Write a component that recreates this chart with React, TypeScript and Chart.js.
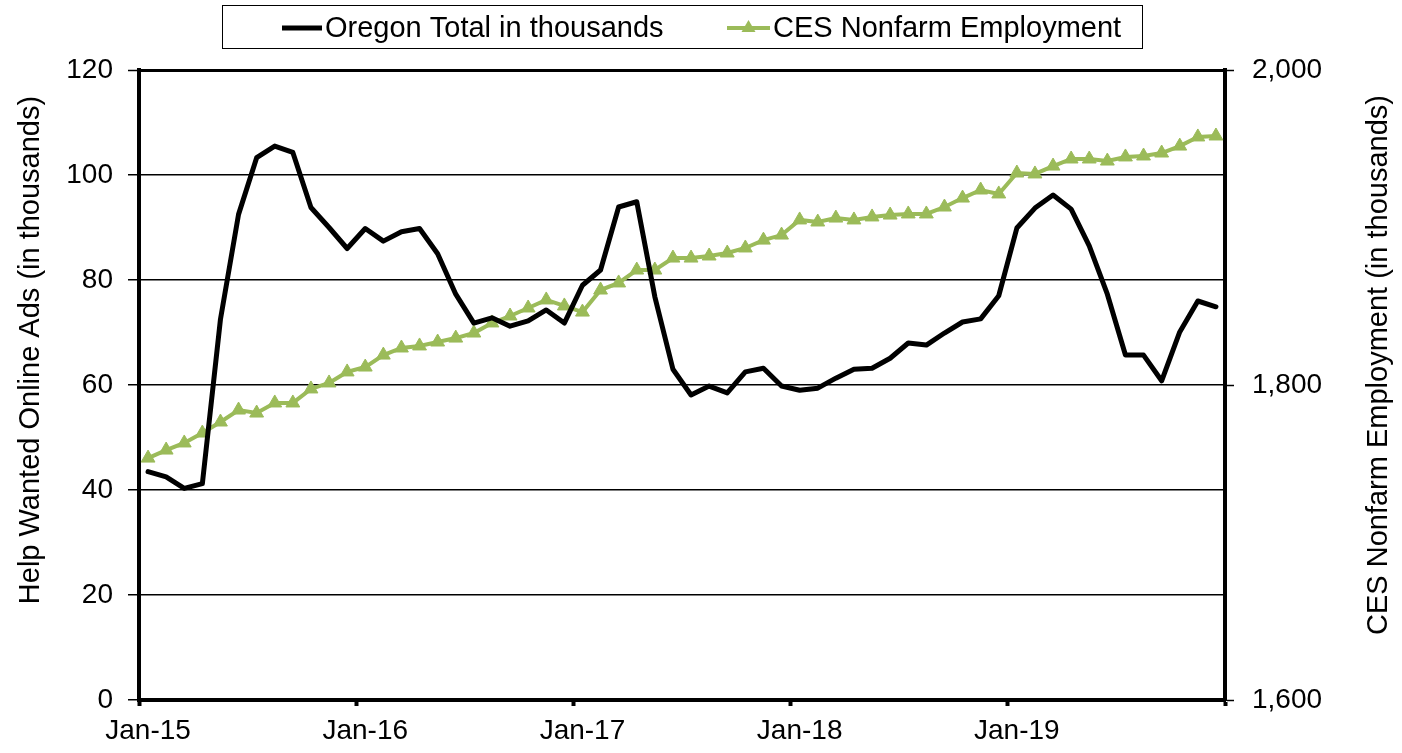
import React, { useEffect, useRef } from 'react';
import { Chart, registerables } from 'chart.js';

Chart.register(...registerables);

const MONTHS = ['Jan', 'Feb', 'Mar', 'Apr', 'May', 'Jun', 'Jul', 'Aug', 'Sep', 'Oct', 'Nov', 'Dec'];
const YEARS = ['15', '16', '17', '18', '19'];
const categories: string[] = YEARS.flatMap((y) => MONTHS.map((m) => `${m}-${y}`));

const oregonTotal: number[] = [
  43.5, 42.5, 40.3, 41.2, 72.5, 92.5, 103.3, 105.5, 104.3, 93.8, 90.0, 86.0,
  89.8, 87.4, 89.2, 89.8, 85.0, 77.3, 71.8, 72.8, 71.2, 72.2, 74.3, 71.8,
  79.0, 81.9, 93.9, 94.9, 76.8, 63.0, 58.1, 59.8, 58.5, 62.5, 63.2, 59.8,
  59.0, 59.4, 61.3, 63.0, 63.2, 65.1, 68.0, 67.6, 69.9, 72.0, 72.6, 77.0,
  89.9, 93.7, 96.2, 93.5, 86.5, 77.3, 65.7, 65.7, 60.8, 70.1, 76.0, 74.9,
];

const cesNonfarm: number[] = [
  1753.6, 1758.7, 1763.2, 1769.5, 1776.5, 1784.1, 1782.2, 1788.6, 1788.6, 1797.5, 1801.3, 1808.3,
  1811.4, 1819.0, 1823.5, 1824.8, 1827.3, 1829.8, 1833.0, 1839.4, 1843.8, 1848.9, 1854.0, 1850.2,
  1846.3, 1860.3, 1864.8, 1873.0, 1873.0, 1880.6, 1880.6, 1881.9, 1883.8, 1887.0, 1892.0, 1895.2,
  1904.8, 1903.5, 1906.0, 1904.8, 1906.7, 1907.9, 1908.6, 1908.6, 1913.0, 1918.7, 1923.8, 1921.3,
  1934.6, 1934.0, 1939.0, 1943.5, 1943.5, 1942.2, 1944.8, 1945.4, 1947.3, 1951.7, 1957.5, 1958.1,
];

const seriesLabels = ['Oregon Total in thousands', 'CES Nonfarm Employment'];
const leftTitle = 'Help Wanted Online Ads (in thousands)';
const rightTitle = 'CES Nonfarm Employment (in thousands)';
const leftRange = { min: 0, max: 120, step: 20 };
const rightRange = { min: 1600, max: 2000, step: 200 };

const FONT = '"Liberation Sans", Arial, Helvetica, sans-serif';
const GREEN = '#9BBB59';

const decorPlugin = {
  id: 'decor',
  afterDraw(chart: any) {
    const ctx = chart.ctx as CanvasRenderingContext2D;
    ctx.save();
    // legend frame
    ctx.strokeStyle = '#000';
    ctx.lineWidth = 1;
    ctx.strokeRect(222.5, 5.5, 920, 43);
    const ly = 28;
    // series 1 sample
    ctx.strokeStyle = '#000';
    ctx.lineWidth = 5;
    ctx.beginPath();
    ctx.moveTo(282, ly);
    ctx.lineTo(322, ly);
    ctx.stroke();
    // series 2 sample
    ctx.strokeStyle = GREEN;
    ctx.lineWidth = 4;
    ctx.beginPath();
    ctx.moveTo(727, ly);
    ctx.lineTo(770, ly);
    ctx.stroke();
    ctx.fillStyle = GREEN;
    ctx.beginPath();
    ctx.moveTo(748.5, ly - 8);
    ctx.lineTo(755.5, ly + 4);
    ctx.lineTo(741.5, ly + 4);
    ctx.closePath();
    ctx.fill();
    ctx.fillStyle = '#000';
    ctx.font = `29px ${FONT}`;
    ctx.textBaseline = 'middle';
    ctx.textAlign = 'left';
    ctx.fillText(chart.data.datasets[0].label, 325, ly + 1);
    ctx.fillText(chart.data.datasets[1].label, 773, ly + 1);
    // axis titles
    ctx.textAlign = 'center';
    ctx.save();
    ctx.translate(31, 350);
    ctx.rotate(-Math.PI / 2);
    ctx.fillText(leftTitle, 0, 0);
    ctx.restore();
    ctx.save();
    ctx.translate(1379, 365);
    ctx.rotate(-Math.PI / 2);
    ctx.fillText(rightTitle, 0, 0);
    ctx.restore();
    ctx.restore();
  },
};

export default function App() {
  const canvasRef = useRef<HTMLCanvasElement | null>(null);

  useEffect(() => {
    const canvas = canvasRef.current;
    if (!canvas) return;
    const tickFont = { size: 28, family: FONT };
    const chart = new Chart(canvas, {
      type: 'line',
      data: {
        labels: categories,
        datasets: [
          {
            label: seriesLabels[0],
            data: oregonTotal,
            yAxisID: 'y',
            borderColor: '#000',
            backgroundColor: '#000',
            borderWidth: 5,
            pointRadius: 0,
            tension: 0,
            borderJoinStyle: 'round',
            borderCapStyle: 'round',
          },
          {
            label: seriesLabels[1],
            data: cesNonfarm,
            yAxisID: 'y1',
            borderColor: GREEN,
            backgroundColor: GREEN,
            borderWidth: 4,
            pointStyle: 'triangle',
            pointRadius: 8,
            pointBorderWidth: 1,
            pointBorderColor: GREEN,
            pointBackgroundColor: GREEN,
            tension: 0,
          },
        ],
      },
      options: {
        responsive: false,
        animation: false,
        layout: { padding: { top: 70, left: 0, right: 0, bottom: 0 } },
        plugins: {
          legend: { display: false },
          tooltip: { enabled: false },
        },
        scales: {
          x: {
            type: 'category',
            offset: true,
            border: { display: true, color: '#000', width: 4 },
            grid: {
              offset: true,
              drawOnChartArea: false,
              drawTicks: true,
              tickLength: 6,
              tickWidth: 4,
              tickColor: (c: any) =>
                c.index === undefined || c.index % 12 === 0 ? '#000' : 'rgba(0,0,0,0)',
            },
            ticks: {
              autoSkip: false,
              maxRotation: 0,
              minRotation: 0,
              padding: 8,
              color: '#000',
              font: tickFont,
              callback: (_v: any, i: number) => (i % 12 === 0 ? categories[i] : ''),
            },
            afterFit: (s: any) => {
              s.height = 53;
            },
          },
          y: {
            position: 'left',
            min: leftRange.min,
            max: leftRange.max,
            ticks: { stepSize: leftRange.step, color: '#000', font: tickFont, padding: 15 },
            grid: {
              color: '#000',
              lineWidth: (c: any) => (c.tick && c.tick.value === leftRange.max ? 3 : 1.5),
              drawTicks: true,
              tickLength: 11,
              tickColor: '#000',
              tickWidth: 1.5,
            },
            border: { display: true, color: '#000', width: 4 },
            afterFit: (s: any) => {
              s.width = 139;
            },
          },
          y1: {
            position: 'right',
            min: rightRange.min,
            max: rightRange.max,
            ticks: {
              stepSize: rightRange.step,
              color: '#000',
              font: tickFont,
              padding: 18,
              callback: (v: any) => Number(v).toLocaleString('en-US'),
            },
            grid: {
              drawOnChartArea: false,
              drawTicks: true,
              tickLength: 9,
              tickColor: '#000',
              tickWidth: 1.5,
            },
            border: { display: true, color: '#000', width: 4 },
            afterFit: (s: any) => {
              s.width = 177;
            },
          },
        },
      },
      plugins: [decorPlugin],
    } as any);
    return () => chart.destroy();
  }, []);

  return (
    <div style={{ position: 'fixed', left: 0, top: 0, width: 1402, height: 753, background: '#fff' }}>
      <canvas ref={canvasRef} width={1402} height={753} style={{ display: 'block' }} />
    </div>
  );
}
